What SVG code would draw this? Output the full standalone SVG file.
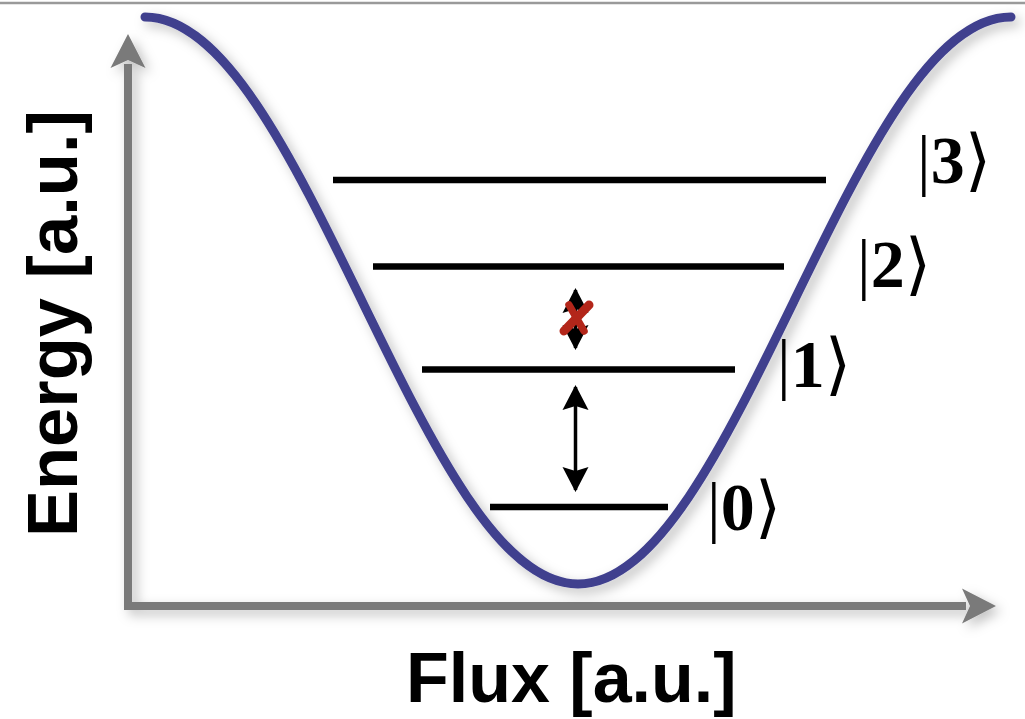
<svg xmlns="http://www.w3.org/2000/svg" width="1025" height="719" viewBox="0 0 1025 719">
<style>
.level{stroke:#000;stroke-width:6.5;fill:none}
.axis{stroke:#7a7a7a;stroke-width:8;fill:none}
.trans{stroke:#000;stroke-width:3.5;fill:none}
.lbl{font-family:"Liberation Sans",Arial,sans-serif;font-weight:bold;fill:#000}
.ket{font-family:"Liberation Serif","DejaVu Serif",serif;fill:#000;font-size:68px}
.bar{font-weight:normal}
.dig{font-weight:bold}
</style>
<defs>
<filter id="sh" x="-10%" y="-10%" width="130%" height="130%">
<feDropShadow dx="5" dy="5" stdDeviation="6" flood-color="#000" flood-opacity="0.25"/>
</filter>
<marker id="axhead" markerUnits="userSpaceOnUse" markerWidth="40" markerHeight="40" viewBox="0 -20 40 40" refX="4" refY="0" orient="auto">
<path d="M0,-17.5 L34,0 L0,17.5 L8,0 Z" fill="#7a7a7a"/>
</marker>
<marker id="ah" markerUnits="userSpaceOnUse" markerWidth="30" markerHeight="30" viewBox="0 -15 30 30" refX="23" refY="0" orient="auto-start-reverse">
<path d="M0,-13 L25,0 L0,13 L4,0 Z" fill="#000"/>
</marker>
</defs>
<line x1="0" y1="3" x2="1025" y2="3" stroke="#9a9a9a" stroke-width="2.5"/>
<g id="axes" filter="url(#sh)">
<path class="axis" d="M128,606 L128,64" marker-end="url(#axhead)"/>
<path class="axis" d="M124,606 L966,606" marker-end="url(#axhead)"/>
</g>
<g id="potential" filter="url(#sh)">
<path d="M145,17 C223.35,17 290.89,155.02 361.5,300 C432.11,444.98 499.65,584 578,584 C656.35,584 723.89,444.98 794.5,300 C865.11,155.02 932.65,17 1011,17" fill="none" stroke="#40408e" stroke-width="9" stroke-linecap="round"/>
</g>
<g id="levels">
<g id="level3"><line class="level" x1="333" y1="180" x2="826" y2="180"/><text class="ket" x="917" y="183"><tspan class="bar">|</tspan><tspan class="dig">3</tspan><tspan class="bar">⟩</tspan></text></g>
<g id="level2"><line class="level" x1="373" y1="266.5" x2="784" y2="266.5"/><text class="ket" x="857" y="287"><tspan class="bar">|</tspan><tspan class="dig">2</tspan><tspan class="bar">⟩</tspan></text></g>
<g id="level1"><line class="level" x1="422" y1="369.5" x2="735" y2="369.5"/><text class="ket" x="777" y="387"><tspan class="bar">|</tspan><tspan class="dig">1</tspan><tspan class="bar">⟩</tspan></text></g>
<g id="level0"><line class="level" x1="490" y1="507" x2="668" y2="507"/><text class="ket" x="707" y="530"><tspan class="bar">|</tspan><tspan class="dig">0</tspan><tspan class="bar">⟩</tspan></text></g>
</g>
<g id="connectors">
<path class="trans" d="M575.5,290 L575.5,348" marker-start="url(#ah)" marker-end="url(#ah)"/>
<path class="trans" d="M575.5,387 L575.5,490" marker-start="url(#ah)" marker-end="url(#ah)"/>
</g>
<g id="forbidden" stroke="#b3261a" stroke-linecap="round" fill="none">
<path d="M589,305 L564,331" stroke-width="9"/>
<path d="M569,305 L584,331" stroke-width="7.5"/>
</g>
<text class="lbl" transform="translate(77,537) rotate(-90)" font-size="70.5">Energy [a.u.]</text>
<text class="lbl" x="406" y="702" font-size="70">Flux [a.u.]</text>
</svg>
